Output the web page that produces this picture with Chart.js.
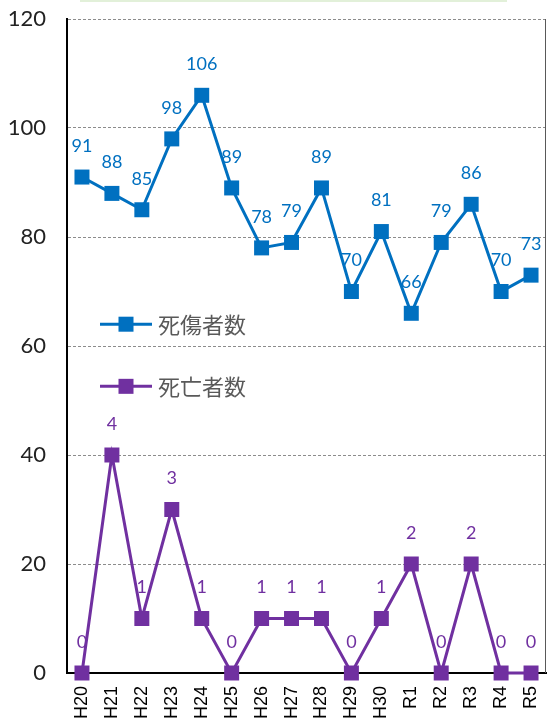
<!DOCTYPE html>
<html>
<head>
<meta charset="utf-8">
<script src="https://cdn.jsdelivr.net/npm/chart.js@4"></script>
<style>
  body { margin: 0; background: #fff; }
  #wrap { position: relative; width: 547px; height: 727px; }
  #topline { position: absolute; left: 80px; top: 0; width: 427px; height: 2px; background: #e2f0d9; }
</style>
</head>
<body>
<div id="wrap">
  <div id="topline"></div>
  <canvas id="lineChart" width="547" height="727"></canvas>
</div>
<script>
const years = ['H20','H21','H22','H23','H24','H25','H26','H27','H28','H29','H30','R1','R2','R3','R4','R5'];
const casualties = [91, 88, 85, 98, 106, 89, 78, 79, 89, 70, 81, 66, 79, 86, 70, 73];
const deaths = [0, 4, 1, 3, 1, 0, 1, 1, 1, 0, 1, 2, 0, 2, 0, 0];
// deaths are drawn at 10x on the same axis, labels show the real count
const deathsScaled = deaths.map(v => v * 10);
const legendNames = ['死傷者数', '死亡者数'];

const BLUE = '#0070C0';
const PURPLE = '#7030A0';
const JP = '"Noto Sans CJK JP", "Noto Sans", sans-serif';

const valueLabels = {
    id: 'valueLabels',
    afterDatasetsDraw(chart) {
        const ctx = chart.ctx;
        ctx.save();
        ctx.font = '18px Lato, "Noto Sans", sans-serif';
        ctx.textAlign = 'center';
        ctx.textBaseline = 'middle';
        chart.data.datasets.forEach((ds, i) => {
            const meta = chart.getDatasetMeta(i);
            ctx.fillStyle = ds.borderColor;
            meta.data.forEach((pt, j) => {
                ctx.fillText(String(ds.shown[j]), pt.x, pt.y - 31);
            });
        });
        ctx.restore();
    }
};

const innerLegend = {
    id: 'innerLegend',
    afterDraw(chart) {
        const ctx = chart.ctx;
        const x = chart.scales.x;
        const y = chart.scales.y;
        const area = chart.chartArea;
        const rows = [{ v: 64, ds: chart.data.datasets[0] }, { v: 52.6, ds: chart.data.datasets[1] }];
        ctx.save();
        // thin right frame line
        ctx.strokeStyle = '#595959';
        ctx.lineWidth = 1;
        ctx.beginPath();
        ctx.moveTo(area.right - 0.5, area.top);
        ctx.lineTo(area.right - 0.5, area.bottom);
        ctx.stroke();
        rows.forEach(r => {
            const py = y.getPixelForValue(r.v);
            const x0 = x.left + 33;
            ctx.strokeStyle = r.ds.borderColor;
            ctx.lineWidth = 3;
            ctx.beginPath();
            ctx.moveTo(x0, py);
            ctx.lineTo(x0 + 52, py);
            ctx.stroke();
            ctx.fillStyle = r.ds.borderColor;
            ctx.fillRect(x0 + 26 - 7.5, py - 7.5, 15, 15);
            ctx.fillStyle = '#595959';
            ctx.font = '22px ' + JP;
            ctx.textAlign = 'left';
            ctx.textBaseline = 'middle';
            ctx.fillText(r.ds.label, x0 + 58, py);
        });
        ctx.restore();
    }
};

const ctx = document.getElementById('lineChart').getContext('2d');
new Chart(ctx, {
    type: 'line',
    data: {
        labels: years,
        datasets: [{
            label: legendNames[0],
            data: casualties,
            shown: casualties,
            borderColor: BLUE,
            backgroundColor: BLUE,
            borderWidth: 3,
            pointStyle: 'rect',
            pointRadius: 10.6,
            pointBorderWidth: 0,
            tension: 0,
            clip: false
        }, {
            label: legendNames[1],
            data: deathsScaled,
            shown: deaths,
            borderColor: PURPLE,
            backgroundColor: PURPLE,
            borderWidth: 3,
            pointStyle: 'rect',
            pointRadius: 10.6,
            pointBorderWidth: 0,
            tension: 0,
            clip: false
        }]
    },
    options: {
        responsive: false,
        animation: false,
        layout: { autoPadding: false, padding: { top: 19, right: 1, left: 0, bottom: 0 } },
        plugins: {
            legend: { display: false },
            tooltip: { enabled: false }
        },
        scales: {
            x: {
                offset: true,
                grid: { display: false, drawTicks: false },
                border: { color: '#000', width: 2 },
                ticks: {
                    color: '#000',
                    font: { family: 'Liberation Sans, Arial, sans-serif', size: 18 },
                    minRotation: 90,
                    maxRotation: 90,
                    padding: 13
                },
                afterFit(scale) {
                    scale.height = 54;
                    scale.paddingLeft = 0;
                    scale.paddingRight = 0;
                }
            },
            y: {
                min: 0,
                max: 120,
                grid: {
                    color: ctx => ctx.tick.value === 0 ? 'rgba(0,0,0,0)' : '#8c8c8c',
                    drawTicks: false,
                    lineWidth: 1
                },
                border: { color: '#000', width: 2, dash: [3, 2], display: true },
                ticks: {
                    stepSize: 20,
                    color: '#222',
                    font: { family: 'Lato, "Noto Sans", sans-serif', size: 22 },
                    padding: 21
                },
                afterFit(scale) {
                    scale.width = 67;
                    scale.paddingTop = 0;
                    scale.paddingBottom = 0;
                }
            }
        }
    },
    plugins: [valueLabels, innerLegend]
});
</script>
</body>
</html>
